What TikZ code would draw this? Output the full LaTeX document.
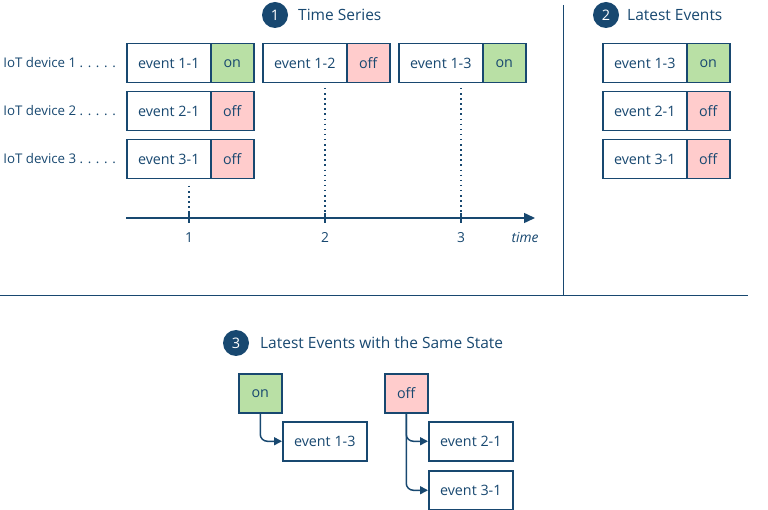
\documentclass[tikz,border=0pt]{standalone}
\usepackage{fontspec}
\setmainfont{Open Sans}
\usetikzlibrary{arrows.meta}
\definecolor{navy}{RGB}{24,72,112}
\definecolor{ongreen}{RGB}{185,224,165}
\definecolor{offpink}{RGB}{255,204,204}
\begin{document}
\begin{tikzpicture}[x=1pt,y=-1pt,
  font=\fontsize{13.3}{16}\selectfont,
  evbox/.style={draw=navy, line width=1.5pt, fill=white, minimum width=84pt, minimum height=39pt, inner sep=0pt, anchor=north west, text=navy, font=\fontsize{14.3}{17}\selectfont},
  onbox/.style={evbox, fill=ongreen, minimum width=43pt},
  offbox/.style={evbox, fill=offpink, minimum width=43pt},
  numc/.style={circle, fill=navy, text=white, minimum size=26pt, inner sep=0pt, font=\fontsize{14.5}{16}\selectfont},
  ttl/.style={text=navy, anchor=west, inner sep=0pt, font=\fontsize{15.5}{18}\selectfont},
  dev/.style={text=navy, anchor=east, inner sep=0pt},
  lbl/.style={text=navy, inner sep=0pt, font=\fontsize{13.8}{16}\selectfont},
  sep/.style={draw=navy, line width=0.9pt},
  dots/.style={draw=navy, line width=1.5pt, dash pattern=on 1.5pt off 3.6pt},
  arr/.style={draw=navy, line width=1.5pt, rounded corners=7pt, -{Triangle[length=8pt,width=8pt]}}
]
\useasboundingbox (0,0) rectangle (768,510);
% titles
\node[numc] (c1) at (275,15) {1};
\node[ttl] (t1) at (298,15) {Time Series};
\node[numc] (c2) at (606,15) {2};
\node[ttl] (t2) at (627,15) {Latest Events};
\node[numc] (c3) at (236,343) {3};
\node[ttl] (t3) at (260,343) {Latest Events with the Same State};
% separators
\coordinate (vs) at (563,5); \coordinate (ve) at (563,295);
\coordinate (hs) at (0,295); \coordinate (he) at (748,295);
\draw[sep] (vs) -- (ve);
\draw[sep] (hs) -- (he);
% device labels
\node[dev] (d1) at (116,63) {IoT device 1 . . . . .};
\node[dev] (d2) at (116,111) {IoT device 2 . . . . .};
\node[dev] (d3) at (116,159) {IoT device 3 . . . . .};
% time series events
\node[evbox] (e11) at (126,43) {event 1-1};
\node[onbox] (s11) at (210,43) {on};
\node[evbox] (e12) at (262,43) {event 1-2};
\node[offbox] (s12) at (346,43) {off};
\node[evbox] (e13) at (398,43) {event 1-3};
\node[onbox] (s13) at (482,43) {on};
\node[evbox] (e21) at (126,91) {event 2-1};
\node[offbox] (s21) at (210,91) {off};
\node[evbox] (e31) at (126,139) {event 3-1};
\node[offbox] (s31) at (210,139) {off};
% latest events
\node[evbox] (l13) at (602,43) {event 1-3};
\node[onbox] (ls13) at (686,43) {on};
\node[evbox] (l21) at (602,91) {event 2-1};
\node[offbox] (ls21) at (686,91) {off};
\node[evbox] (l31) at (602,139) {event 3-1};
\node[offbox] (ls31) at (686,139) {off};
% axis
\coordinate (as) at (126,218);
\coordinate (ae) at (535,218);
\draw[navy, line width=1.5pt, -{Triangle[length=11pt,width=10pt]}] (as) -- (ae);
\foreach \x/\n in {189/1,325/2,461/3}{
  \coordinate (tk\n) at (\x,218);
  \draw[navy, line width=1.5pt] (\x,213) -- (\x,223);
  \node[lbl] (tl\n) at (\x,238) {\n};
}
\node[lbl, font=\fontsize{13.8}{16}\selectfont\itshape] (tm) at (525,238) {time};
\coordinate (p1) at (189,186);
\coordinate (p2) at (325,88);
\coordinate (p3) at (461,88);
\draw[dots] (p1) -- (189,214);
\draw[dots] (p2) -- (325,214);
\draw[dots] (p3) -- (461,214);
% section 3
\node[onbox] (on) at (238,373) {on};
\node[evbox] (g13) at (282,421) {event 1-3};
\node[offbox] (off) at (384,373) {off};
\node[evbox] (g21) at (428,421) {event 2-1};
\node[evbox] (g31) at (428,470) {event 3-1};
\draw[arr] (on.south) |- (g13.west);
\draw[arr] (off.south) |- (g21.west);
\draw[arr] (off.south) |- (g31.west);
\end{tikzpicture}
\end{document}
